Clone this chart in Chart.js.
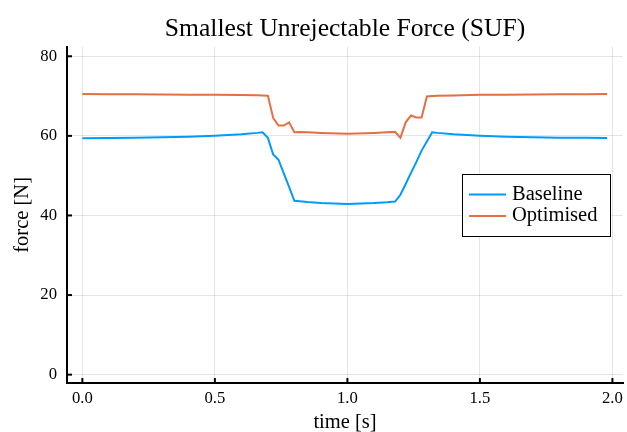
<!DOCTYPE html>
<html>
<head>
<meta charset="utf-8">
<script src="https://cdn.jsdelivr.net/npm/chart.js@4/dist/chart.umd.min.js"></script>
<style>
  html, body { margin: 0; padding: 0; background: #fff; }
  #wrap { width: 627px; height: 432px; }
</style>
</head>
<body>
<div id="wrap"><canvas id="sufChart" width="627" height="432"></canvas></div>
<script>
// time samples [s]
const timeS = [0, 0.1, 0.2, 0.3, 0.4, 0.5, 0.6, 0.66, 0.68, 0.70, 0.72, 0.74, 0.76, 0.78, 0.80,
  0.82, 0.85, 0.9, 1.0, 1.1, 1.15, 1.18, 1.20, 1.22, 1.24, 1.26, 1.28, 1.30, 1.32, 1.34,
  1.4, 1.5, 1.6, 1.7, 1.8, 1.9, 1.98];

// force [N]
const baseline = [59.4, 59.45, 59.55, 59.65, 59.8, 60.05, 60.4, 60.75, 60.9, 59.5, 55.3, 54.0, 50.6, 47.2, 43.7,
  43.6, 43.4, 43.15, 42.9, 43.1, 43.3, 43.5, 45.2, 47.9, 50.7, 53.4, 56.3, 58.6, 60.9, 60.75,
  60.4, 60.05, 59.8, 59.65, 59.55, 59.5, 59.45];
const optimised = [70.5, 70.48, 70.45, 70.4, 70.35, 70.3, 70.25, 70.2, 70.15, 70.1, 64.5, 62.6, 62.6, 63.4, 60.9,
  61.0, 60.9, 60.75, 60.55, 60.75, 60.9, 61.0, 59.5, 63.4, 65.1, 64.6, 64.6, 69.9, 70.0, 70.05,
  70.15, 70.3, 70.35, 70.4, 70.45, 70.48, 70.5];

const seriesNames = ['Baseline', 'Optimised'];
const seriesColors = ['#009AFA', '#E26F46'];

const xTicks = [0, 0.5, 1.0, 1.5, 2.0];
const yTicks = [0, 20, 40, 60, 80];

const serif = "'Liberation Serif', 'Times New Roman', serif";

const toPoints = (ys) => timeS.map((t, i) => ({ x: t, y: ys[i] }));

// small tick marks on the inside of the axes
const innerTicks = {
  id: 'innerTicks',
  afterDraw(chart) {
    const { ctx, chartArea, scales } = chart;
    ctx.save();
    ctx.strokeStyle = '#000';
    ctx.lineWidth = 2;
    xTicks.forEach(v => {
      const px = scales.x.getPixelForValue(v);
      ctx.beginPath();
      ctx.moveTo(px, chartArea.bottom);
      ctx.lineTo(px, chartArea.bottom - 5);
      ctx.stroke();
    });
    yTicks.forEach(v => {
      const py = scales.y.getPixelForValue(v);
      ctx.beginPath();
      ctx.moveTo(chartArea.left, py);
      ctx.lineTo(chartArea.left + 5, py);
      ctx.stroke();
    });
    ctx.restore();
  }
};

// legend box inside the plot, right side
const boxLegend = {
  id: 'boxLegend',
  afterDraw(chart) {
    const { ctx, chartArea } = chart;
    const x0 = chartArea.right - 161, y0 = 174, w = 148, h = 62;
    ctx.save();
    ctx.fillStyle = '#fff';
    ctx.fillRect(x0, y0, w, h);
    ctx.strokeStyle = '#000';
    ctx.lineWidth = 1;
    ctx.strokeRect(x0 + 0.5, y0 + 0.5, w, h);
    ctx.font = '20.5px ' + serif;
    ctx.textBaseline = 'middle';
    ctx.fillStyle = '#000';
    chart.data.datasets.forEach((ds, i) => {
      const y = y0 + 20.5 + i * 21.5;
      ctx.strokeStyle = ds.borderColor;
      ctx.lineWidth = 2;
      ctx.beginPath();
      ctx.moveTo(x0 + 7, y);
      ctx.lineTo(x0 + 44, y);
      ctx.stroke();
      ctx.fillText(ds.label, x0 + 50, y);
    });
    ctx.restore();
  }
};

const ctx = document.getElementById('sufChart').getContext('2d');

new Chart(ctx, {
  type: 'line',
  data: {
    datasets: [
      { label: seriesNames[0], data: toPoints(baseline), borderColor: seriesColors[0] },
      { label: seriesNames[1], data: toPoints(optimised), borderColor: seriesColors[1] }
    ]
  },
  options: {
    responsive: false,
    animation: false,
    layout: { padding: { left: 0, right: 4, top: 0, bottom: 0 } },
    elements: {
      point: { radius: 0 },
      line: { borderWidth: 2, tension: 0 }
    },
    plugins: {
      legend: { display: false },
      tooltip: { enabled: false },
      title: {
        display: true,
        fullSize: false,
        text: 'Smallest Unrejectable Force (SUF)',
        color: '#000',
        font: { family: serif, size: 25.6, weight: 'normal' },
        padding: { top: 14, bottom: 2 }
      }
    },
    scales: {
      x: {
        type: 'linear',
        min: -0.058,
        max: 2.04,
        afterBuildTicks: (s) => { s.ticks = xTicks.map(v => ({ value: v })); },
        afterFit: (s) => { s.height = 49; s.paddingLeft = 0; s.paddingRight = 0; },
        grid: { color: 'rgba(0,0,0,0.1)', lineWidth: 1, drawTicks: false },
        border: { display: true, color: '#000', width: 2 },
        ticks: {
          color: '#000',
          padding: 6,
          font: { family: serif, size: 16.7 },
          maxRotation: 0,
          callback: (v) => Number(v).toFixed(1)
        },
        title: {
          display: true,
          text: 'time [s]',
          color: '#000',
          font: { family: serif, size: 20.5 },
          padding: { top: 0, bottom: -3 }
        }
      },
      y: {
        min: -2.1,
        max: 82.4,
        afterBuildTicks: (s) => { s.ticks = yTicks.map(v => ({ value: v })); },
        afterFit: (s) => { s.width = 67; },
        grid: { color: 'rgba(0,0,0,0.1)', lineWidth: 1, drawTicks: false },
        border: { display: true, color: '#000', width: 2 },
        ticks: {
          color: '#000',
          padding: 10,
          font: { family: serif, size: 16.7 },
          callback: (v) => String(v)
        },
        title: {
          display: true,
          text: 'force [N]',
          color: '#000',
          font: { family: serif, size: 20.5 },
          padding: { top: 10.4, bottom: 0 }
        }
      }
    }
  },
  plugins: [innerTicks, boxLegend]
});
</script>
</body>
</html>
